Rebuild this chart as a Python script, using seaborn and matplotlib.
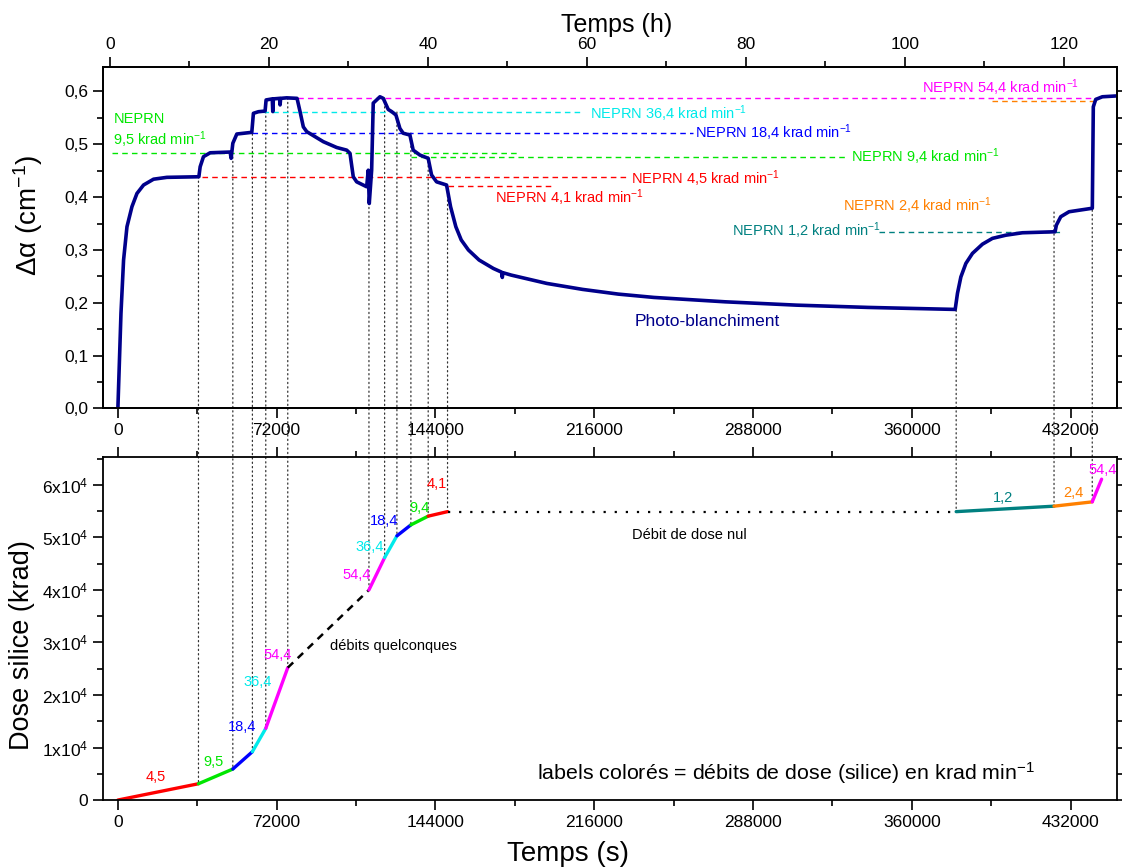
import matplotlib
matplotlib.use("Agg")
import matplotlib.pyplot as plt
from matplotlib.patches import ConnectionPatch
from matplotlib.ticker import MultipleLocator, FuncFormatter
import seaborn as sns

# ── Style ────────────────────────────────────────────────
sns.set_theme(style="ticks")
plt.rcParams["font.family"] = ["Liberation Sans", "DejaVu Sans"]
plt.rcParams["mathtext.fontset"] = "custom"
plt.rcParams["mathtext.rm"] = "Liberation Sans"
plt.rcParams["mathtext.it"] = "Liberation Sans:italic"
plt.rcParams["axes.edgecolor"] = "black"
plt.rcParams["axes.labelcolor"] = "black"
plt.rcParams["xtick.color"] = "black"
plt.rcParams["ytick.color"] = "black"
plt.rcParams["xtick.labelcolor"] = "black"
plt.rcParams["ytick.labelcolor"] = "black"
plt.rcParams["text.color"] = "black"

NAVY = "#00008b"
RED, GREEN, BLUE = "#ff0000", "#00e600", "#0000ff"
CYAN, MAGENTA = "#00eaea", "#ff00ff"
TEAL, ORANGE = "#008080", "#ff8000"

# ── Data: Δα curve (s, cm-1) ─────────────────────────────
curve_t = [0, 1400, 2580, 4120, 6380, 8650, 11640, 16170, 22230, 36720,
           37310, 38810, 41840, 50900, 51350, 52120, 53930, 60720,
           61450, 63710, 66750, 67200, 70000, 70230, 70500, 73300, 73540, 73800, 76570, 81240,
           82600, 84090, 85630, 93150, 99220, 103740, 105240, 106730, 108270, 112800,
           113530, 113980, 115060, 115790, 118820, 120320, 122580, 124120, 126070,
           127880, 129370, 132410, 133900, 136940, 140700, 142230, 144500, 149030,
           150840, 153240, 155680, 158940, 163790, 170260, 174000, 174300, 174600, 178320, 194490,
           210700, 226870, 243030, 275370, 307700, 340080, 379650,
           380690, 382230, 384500, 387490, 392010, 396540, 402610, 410130, 424940,
           425530, 427520, 431280, 441830, 442280, 443370, 446360, 452430]
curve_da = [0, 0.18, 0.281, 0.344, 0.382, 0.407, 0.423, 0.434, 0.4375, 0.4386,
            0.4576, 0.4766, 0.484, 0.4854, 0.4735, 0.502, 0.5195, 0.5227,
            0.5587, 0.5617, 0.563, 0.584, 0.586, 0.562, 0.586, 0.587, 0.5746, 0.587, 0.588, 0.587,
            0.562, 0.533, 0.524, 0.505, 0.494, 0.489, 0.483, 0.4386, 0.429, 0.4197,
            0.451, 0.388, 0.451, 0.578, 0.590, 0.587, 0.566, 0.562, 0.5555,
            0.530, 0.521, 0.5176, 0.489, 0.4797, 0.4735, 0.442, 0.429, 0.423,
            0.382, 0.344, 0.319, 0.300, 0.281, 0.265, 0.258, 0.248, 0.257, 0.2525, 0.2367,
            0.2254, 0.2165, 0.2102, 0.2019, 0.1956, 0.1913, 0.1875,
            0.218, 0.249, 0.2746, 0.2936, 0.311, 0.322, 0.328, 0.3326, 0.3345,
            0.347, 0.363, 0.3724, 0.379, 0.571, 0.585, 0.590, 0.5915]

# ── Data: dose (krad) at each change of dose rate ─────────
event_t = [0, 36540, 52120, 60990, 67060, 77030, 113840, 120950, 126520,
           132860, 140700, 149480, 380100, 424470, 441800, 446040]
event_dose = [0, 3100, 5900, 9200, 13650, 25200, 40000, 46150, 50290,
              52380, 54040, 54900, 54900, 55940, 56760, 61080]
event_da = [0, 0.4386, 0.476, 0.5195, 0.5617, 0.5877, 0.389, 0.5877, 0.561,
            0.5214, 0.476, 0.4195, 0.186, 0.3718, 0.3756, 0.59]
seg_colors = [RED, GREEN, BLUE, CYAN, MAGENTA, "black", MAGENTA, CYAN, BLUE,
              GREEN, RED, "black", TEAL, ORANGE, MAGENTA]
seg_styles = ["-", "-", "-", "-", "-", "dash", "-", "-", "-",
              "-", "-", "dot", "-", "-", "-"]

# dose-rate labels in the lower panel
rate_text = ["4,5", "9,5", "18,4", "36,4", "54,4", "54,4", "36,4", "18,4",
             "9,4", "4,1", "1,2", "2,4", "54,4"]
rate_t = [17390, 43200, 56200, 63260, 72310, 108270, 114290, 120770,
          136620, 144490, 401380, 433080, 446330]
rate_dose = [4440, 7300, 13960, 22530, 27670, 42860, 48130, 53140,
             55680, 60130, 57470, 58530, 62860]
rate_colors = [RED, GREEN, BLUE, CYAN, MAGENTA, MAGENTA, CYAN, BLUE,
               GREEN, RED, TEAL, ORANGE, MAGENTA]

# NEPRN reference levels in the upper panel
ref_level = [0.587, 0.5617, 0.5208, 0.4835, 0.476, 0.4375, 0.421, 0.3345, 0.5826]
ref_t0 = [77160, 65840, 60860, -2540, 132860, 38080, 149620, 345230, 396400]
ref_t1 = [443530, 210740, 260560, 182220, 329830, 230670, 197160, 428100, 443530]
ref_colors = [MAGENTA, CYAN, BLUE, GREEN, GREEN, RED, RED, TEAL, ORANGE]

neprn_text = ["NEPRN 54,4 krad min$^{-1}$", "NEPRN 36,4 krad min$^{-1}$",
              "NEPRN 18,4 krad min$^{-1}$", "NEPRN 9,4 krad min$^{-1}$",
              "NEPRN 4,5 krad min$^{-1}$", "NEPRN 4,1 krad min$^{-1}$",
              "NEPRN 2,4 krad min$^{-1}$", "NEPRN 1,2 krad min$^{-1}$",
              "NEPRN", "9,5 krad min$^{-1}$"]
neprn_t = [364400, 213980, 261780, 332550, 232800, 170900, 328600, 278400, -2080, -2080]
neprn_da = [0.608, 0.5587, 0.5227, 0.4765, 0.4343, 0.3996, 0.383, 0.3364, 0.548, 0.508]
neprn_colors = [MAGENTA, CYAN, BLUE, GREEN, RED, RED, ORANGE, TEAL, GREEN, GREEN]

# ── Figure ───────────────────────────────────────────────
fig = plt.figure(figsize=(11.22, 8.68), dpi=100)
ax_top = fig.add_axes([0.0915, 0.5294, 0.9040, 0.3938])
ax_bot = fig.add_axes([0.0915, 0.0783, 0.9040, 0.3952])
# transparent faces so the linking dotted lines sit behind the data
ax_top.patch.set_alpha(0)
ax_bot.patch.set_alpha(0)

XLIM = (-6900, 453000)

# upper panel: reference dashes then the curve
for lv, t0, t1, c in zip(ref_level, ref_t0, ref_t1, ref_colors):
    ax_top.plot([t0, t1], [lv, lv], color=c, lw=1.0, dashes=(4, 3), zorder=2)

sns.lineplot(x=curve_t, y=curve_da, ax=ax_top, color=NAVY, lw=2.6,
             sort=False, estimator=None, zorder=4)

for txt, t, v, c in zip(neprn_text, neprn_t, neprn_da, neprn_colors):
    ax_top.text(t, v, txt, color=c, fontsize=10.5, ha="left", va="center")
ax_top.text(267350, 0.164, "Photo-blanchiment", color=NAVY, fontsize=12.5,
            ha="center", va="center")

ax_top.set_xlim(*XLIM)
ax_top.set_ylim(0, 0.647)
ax_top.xaxis.set_major_locator(MultipleLocator(72000))
ax_top.xaxis.set_minor_locator(MultipleLocator(36000))
ax_top.yaxis.set_major_locator(MultipleLocator(0.1))
ax_top.yaxis.set_minor_locator(MultipleLocator(0.05))
ax_top.xaxis.set_major_formatter(FuncFormatter(lambda v, p: f"{v:.0f}"))
ax_top.yaxis.set_major_formatter(FuncFormatter(lambda v, p: f"{v:.1f}".replace(".", ",")))
ax_top.set_ylabel("Δα (cm$^{-1}$)", fontsize=20)
ax_top.yaxis.set_label_coords(-0.057, 0.566)
ax_top.tick_params(which="both", direction="out", top=False, right=True,
                   labelsize=12.5, width=1.2)
ax_top.tick_params(which="major", length=7)
ax_top.tick_params(which="minor", length=4)

# hours axis on top
ax_h = ax_top.twiny()
ax_h.set_xlim(-0.92, 126.7)
ax_h.xaxis.set_major_locator(MultipleLocator(20))
ax_h.xaxis.set_minor_locator(MultipleLocator(10))
ax_h.tick_params(which="both", direction="out", labelsize=12.5, width=1.2)
ax_h.tick_params(which="major", length=7)
ax_h.tick_params(which="minor", length=4)
ax_h.set_xlabel("Temps (h)", fontsize=18)
ax_h.xaxis.set_label_coords(0.507, 1.10)

# lower panel: dose segments
for i in range(len(seg_colors)):
    xs = event_t[i:i + 2]
    ys = event_dose[i:i + 2]
    if seg_styles[i] == "dash":
        ax_bot.plot(xs, ys, color="black", lw=1.8, dashes=(3, 2.5))
    elif seg_styles[i] == "dot":
        ax_bot.plot(xs, ys, color="black", lw=1.6, dashes=(1, 4))
    else:
        sns.lineplot(x=xs, y=ys, ax=ax_bot, color=seg_colors[i], lw=2.4,
                     sort=False, estimator=None)

for txt, t, d, c in zip(rate_text, rate_t, rate_dose, rate_colors):
    ax_bot.text(t, d, txt, color=c, fontsize=10.5, ha="center", va="center")
ax_bot.text(124840, 29330, "débits quelconques", fontsize=10.5, ha="center", va="center")
ax_bot.text(259200, 50480, "Débit de dose nul", fontsize=10.5, ha="center", va="center")
ax_bot.text(0.674, 0.079, "labels colorés = débits de dose (silice) en krad min$^{-1}$",
            transform=ax_bot.transAxes, fontsize=15.4, ha="center", va="center")

ax_bot.set_xlim(*XLIM)
ax_bot.set_ylim(0, 65300)
ax_bot.xaxis.set_major_locator(MultipleLocator(72000))
ax_bot.xaxis.set_minor_locator(MultipleLocator(36000))
ax_bot.yaxis.set_major_locator(MultipleLocator(10000))
ax_bot.yaxis.set_minor_locator(MultipleLocator(5000))
ax_bot.xaxis.set_major_formatter(FuncFormatter(lambda v, p: f"{v:.0f}"))
ax_bot.yaxis.set_major_formatter(FuncFormatter(
    lambda v, p: "0" if abs(v) < 1 else f"{v / 1e4:.0f}x10$^{{4}}$"))
ax_bot.set_xlabel("Temps (s)", fontsize=20)
ax_bot.xaxis.set_label_coords(0.459, -0.12)
ax_bot.set_ylabel("Dose silice (krad)", fontsize=19.5)
ax_bot.yaxis.set_label_coords(-0.067, 0.452)
ax_bot.tick_params(which="both", direction="out", top=True, right=True,
                   labelsize=12.5, width=1.2)
ax_bot.tick_params(which="major", length=7)
ax_bot.tick_params(which="minor", length=4)

for ax in (ax_top, ax_h, ax_bot):
    for sp in ax.spines.values():
        sp.set_linewidth(1.3)
        sp.set_color("black")

# dotted links between Δα and dose at each rate change
for t, da, d in zip(event_t[1:-1], event_da[1:-1], event_dose[1:-1]):
    con = ConnectionPatch(xyA=(t, da), coordsA=ax_top.transData,
                          xyB=(t, d), coordsB=ax_bot.transData,
                          color="#333333", lw=0.9, linestyle=(0, (1, 2.5)), zorder=-1)
    fig.add_artist(con)

fig.savefig("out.png", dpi=100)
